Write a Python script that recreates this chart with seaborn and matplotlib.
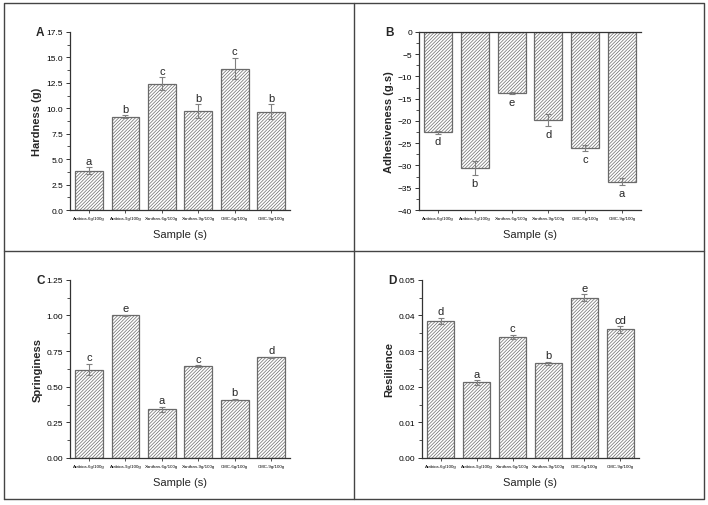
import numpy as np
import pandas as pd
import matplotlib
matplotlib.use("Agg")
import matplotlib.pyplot as plt
import seaborn as sns
from matplotlib.lines import Line2D
from matplotlib.ticker import MultipleLocator

# ------------------------ DATA --------------------------

samples = ["Arabica-6g/100g", "Arabica-9g/100g", "Xanthan-6g/100g",
           "Xanthan-9g/100g", "CMC-6g/100g", "CMC-9g/100g"]

hardness = [3.85, 9.18, 12.4, 9.72, 13.9, 9.65]
hardness_sd = [0.35, 0.15, 0.65, 0.7, 1.05, 0.75]
hardness_grp = ["a", "b", "c", "b", "c", "b"]

adhesiveness = [-22.5, -30.6, -13.7, -19.8, -26.1, -33.6]
adhesiveness_sd = [0.35, 1.6, 0.3, 1.3, 0.7, 0.8]
adhesiveness_grp = ["d", "b", "e", "d", "c", "a"]

springiness = [0.62, 1.00, 0.34, 0.645, 0.41, 0.705]
springiness_sd = [0.04, 0.004, 0.02, 0.004, 0.005, 0.004]
springiness_grp = ["c", "e", "a", "c", "b", "d"]

resilience = [0.0385, 0.0212, 0.0340, 0.0266, 0.0450, 0.0361]
resilience_sd = [0.0009, 0.0007, 0.0006, 0.0004, 0.0010, 0.0009]
resilience_grp = ["d", "a", "c", "b", "e", "cd"]

# ------------------------ STYLE --------------------------

sns.set_theme(style="white")
plt.rcParams["font.family"] = ["Liberation Sans", "DejaVu Sans"]
plt.rcParams["hatch.linewidth"] = 0.5
plt.rcParams["axes.edgecolor"] = "#333333"

EDGE = "#6a6a6a"
ERR = "#808080"


def draw_panel(ax, values, sd, groups, ylabel, tag, ylim, major, minor, fmt, negative=False):
    df = pd.DataFrame({"sample": samples, "value": values})
    sns.barplot(data=df, x="sample", y="value", ax=ax, color="white",
                edgecolor=EDGE, linewidth=0.9, hatch="//////////", width=0.76,
                errorbar=None)
    centers = [p.get_x() + p.get_width() / 2 for p in ax.patches]
    ax.errorbar(centers, values, yerr=sd, fmt="none", ecolor=ERR,
                elinewidth=0.8, capsize=2, capthick=0.8)
    span = ylim[1] - ylim[0]
    for x, v, s, g in zip(centers, values, sd, groups):
        if negative:
            ax.text(x, v - s - 0.015 * span, g, ha="center", va="top", fontsize=8)
        else:
            ax.text(x, v + s + 0.008 * span, g, ha="center", va="bottom", fontsize=8)

    ax.set_ylim(*ylim)
    ax.set_xlim(-0.52, 5.52)
    ax.yaxis.set_major_locator(MultipleLocator(major))
    ax.yaxis.set_minor_locator(MultipleLocator(minor))
    ax.yaxis.set_major_formatter(fmt)
    ax.tick_params(axis="y", which="major", direction="out", length=3, width=0.7,
                   labelsize=6, pad=2, left=True, colors="#333333")
    ax.tick_params(axis="y", which="minor", direction="out", length=2, width=0.6,
                   left=True, colors="#333333")
    ax.tick_params(axis="x", which="major", direction="out", length=2.5, width=0.6,
                   labelsize=3.2, pad=2, bottom=True, colors="#333333")
    for lab in ax.get_yticklabels() + ax.get_xticklabels():
        lab.set_color("black")

    for side in ["left", "bottom"]:
        ax.spines[side].set_linewidth(0.9)
    ax.spines["right"].set_visible(False)
    if negative:
        ax.spines["top"].set_linewidth(0.9)
    else:
        ax.spines["top"].set_visible(False)

    ax.set_xlabel("Sample (s)", fontsize=8, labelpad=6)
    ax.set_ylabel(ylabel, fontsize=8, fontweight="bold", labelpad=3)
    ax.text(-0.135, 1.0, tag, transform=ax.transAxes, fontsize=8.5,
            fontweight="bold", ha="center", va="center")


fig = plt.figure(figsize=(7.08, 5.06), dpi=100)

ax_a = fig.add_axes([0.0989, 0.583, 0.311, 0.352])
ax_b = fig.add_axes([0.5918, 0.583, 0.3136, 0.352])
ax_c = fig.add_axes([0.0989, 0.093, 0.311, 0.352])
ax_d = fig.add_axes([0.596, 0.093, 0.3065, 0.352])

draw_panel(ax_a, hardness, hardness_sd, hardness_grp, "Hardness (g)", "A",
           (0, 17.5), 2.5, 1.25, "{x:.1f}")
draw_panel(ax_b, adhesiveness, adhesiveness_sd, adhesiveness_grp,
           "Adhesiveness (g.s)", "B", (-40, 0), 5, 2.5, "{x:.0f}", negative=True)
draw_panel(ax_c, springiness, springiness_sd, springiness_grp, "Springiness", "C",
           (0, 1.25), 0.25, 0.125, "{x:.2f}")
draw_panel(ax_d, resilience, resilience_sd, resilience_grp, "Resilience", "D",
           (0, 0.05), 0.01, 0.005, "{x:.2f}")

# panel frame lines like the original figure
frame = dict(color="#444444", linewidth=1.0, transform=fig.transFigure)
x0, x1, y0, y1 = 4 / 708, 704 / 708, 1 - 500 / 506, 1 - 4 / 506
xm, ym = 354 / 708, 1 - 252 / 506
fig.add_artist(Line2D([x0, x1, x1, x0, x0], [y0, y0, y1, y1, y0], **frame))
fig.add_artist(Line2D([xm, xm], [y0, y1], **frame))
fig.add_artist(Line2D([x0, x1], [ym, ym], **frame))

fig.savefig("out.png", dpi=100)
